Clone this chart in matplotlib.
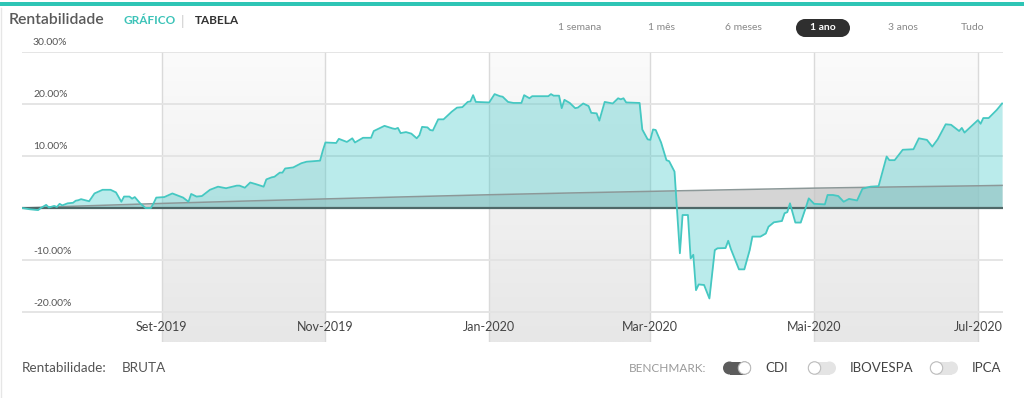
import matplotlib.pyplot as plt
import matplotlib.dates as mdates
from matplotlib.colors import LinearSegmentedColormap
from matplotlib.patches import FancyBboxPatch, Rectangle, Circle
import numpy as np
import pandas as pd

plt.rcParams['font.family'] = ['Lato', 'DejaVu Sans']

# rentabilidade acumulada do fundo (%)
datas = [
    '2019-07-11', '2019-07-14', '2019-07-17', '2019-07-18', '2019-07-20', '2019-07-21', '2019-07-23',
    '2019-07-24', '2019-07-25', '2019-07-26', '2019-07-28', '2019-07-30', '2019-07-31',
    '2019-08-01', '2019-08-02', '2019-08-05', '2019-08-07', '2019-08-10', '2019-08-13', '2019-08-15',
    '2019-08-17', '2019-08-18', '2019-08-20', '2019-08-21', '2019-08-22', '2019-08-24', '2019-08-26',
    '2019-08-28', '2019-08-29', '2019-08-30',
    '2019-09-02', '2019-09-05', '2019-09-09', '2019-09-11', '2019-09-12', '2019-09-14', '2019-09-16',
    '2019-09-19', '2019-09-22', '2019-09-25', '2019-09-29', '2019-09-30',
    '2019-10-02', '2019-10-04', '2019-10-06', '2019-10-09', '2019-10-10', '2019-10-12', '2019-10-13',
    '2019-10-15', '2019-10-16', '2019-10-17', '2019-10-20', '2019-10-23', '2019-10-25', '2019-10-30',
    '2019-10-31',
    '2019-11-01', '2019-11-05', '2019-11-06', '2019-11-09', '2019-11-11', '2019-11-12', '2019-11-14',
    '2019-11-15', '2019-11-18', '2019-11-19', '2019-11-23', '2019-11-26', '2019-11-27', '2019-11-28',
    '2019-11-29',
    '2019-12-01', '2019-12-03', '2019-12-05', '2019-12-06', '2019-12-07', '2019-12-09', '2019-12-10',
    '2019-12-11', '2019-12-13', '2019-12-15', '2019-12-18', '2019-12-20', '2019-12-22', '2019-12-24',
    '2019-12-25', '2019-12-26', '2019-12-27',
    '2020-01-01', '2020-01-03', '2020-01-05', '2020-01-06', '2020-01-08', '2020-01-10', '2020-01-13',
    '2020-01-14', '2020-01-16', '2020-01-17', '2020-01-23', '2020-01-24', '2020-01-25', '2020-01-27',
    '2020-01-28', '2020-01-29', '2020-01-31',
    '2020-02-02', '2020-02-03', '2020-02-05', '2020-02-07', '2020-02-08', '2020-02-10', '2020-02-11',
    '2020-02-13', '2020-02-16', '2020-02-18', '2020-02-19', '2020-02-20', '2020-02-21', '2020-02-26',
    '2020-02-27', '2020-02-29',
    '2020-03-01', '2020-03-02', '2020-03-03', '2020-03-05', '2020-03-07', '2020-03-08', '2020-03-10',
    '2020-03-12', '2020-03-13', '2020-03-15', '2020-03-16', '2020-03-17', '2020-03-18', '2020-03-19',
    '2020-03-21', '2020-03-23', '2020-03-25', '2020-03-26', '2020-03-29', '2020-03-30', '2020-03-31',
    '2020-04-03', '2020-04-05', '2020-04-07', '2020-04-08', '2020-04-11', '2020-04-13', '2020-04-14',
    '2020-04-16', '2020-04-19', '2020-04-20', '2020-04-21', '2020-04-22', '2020-04-24', '2020-04-26',
    '2020-04-28', '2020-04-29',
    '2020-05-01', '2020-05-05', '2020-05-06', '2020-05-08', '2020-05-10', '2020-05-12', '2020-05-14',
    '2020-05-17', '2020-05-19', '2020-05-22', '2020-05-25', '2020-05-28', '2020-05-29', '2020-05-31',
    '2020-06-03', '2020-06-07', '2020-06-09', '2020-06-12', '2020-06-14', '2020-06-16', '2020-06-19',
    '2020-06-21', '2020-06-24', '2020-06-25', '2020-06-26',
    '2020-07-01', '2020-07-02', '2020-07-03', '2020-07-05', '2020-07-08', '2020-07-10',
]
rentab = [
    0.0, -0.25, -0.4, 0.0, 0.6, 0.1, 0.4, 0.2, 0.8, 0.5, 0.9, 1.0, 1.4,
    1.5, 1.7, 1.3, 2.8, 3.5, 3.5, 3.0, 1.2, 2.2, 2.2, 1.8, 2.1, 0.9, 0.0, 0.0, 0.9, 2.0,
    2.1, 2.8, 2.0, 1.2, 2.7, 2.2, 2.3, 3.5, 4.1, 3.8, 4.3, 4.3,
    3.9, 4.9, 4.6, 4.1, 5.5, 5.9, 6.0, 6.8, 6.8, 7.6, 7.8, 8.6, 8.9, 9.1, 11.0,
    12.6, 12.5, 13.3, 12.7, 13.4, 12.6, 13.2, 13.5, 13.5, 14.8, 15.8, 15.3, 15.2, 15.4, 14.4,
    14.6, 14.3, 13.4, 14.0, 15.6, 15.5, 15.0, 14.9, 17.05, 17.05, 18.5, 19.3, 19.4, 20.4, 20.5, 21.7, 20.4,
    20.3, 21.9, 21.5, 21.4, 20.4, 20.2, 20.2, 21.7, 21.1, 21.5, 21.5, 21.9, 21.6, 21.6, 19.2, 20.8, 20.2,
    19.2, 19.3, 20.1, 19.6, 18.3, 18.2, 16.8, 20.4, 20.1, 21.1, 20.9, 21.1, 20.3, 20.2, 15.1, 13.2,
    13.1, 15.1, 15.0, 12.6, 9.2, 9.0, 7.0, -8.7, -1.35, -1.35, -9.7, -9.0, -15.8, -14.7, -14.8, -17.4,
    -8.1, -7.75, -7.7, -6.3, -7.9,
    -11.8, -11.8, -8.1, -5.5, -5.5, -4.9, -3.6, -2.75, -2.5, -1.0, -0.8, 0.9, -2.8, -2.8, 0.25, 1.85,
    0.8, 0.7, 2.5, 2.5, 2.3, 1.2, 1.75, 1.45, 3.7, 4.1, 4.2, 9.9, 9.2, 9.2,
    11.2, 11.3, 13.4, 13.1, 11.8, 13.2, 16.1, 16.0, 14.8, 15.4, 14.5,
    16.9, 16.2, 17.3, 17.3, 18.85, 20.1,
]

# benchmark CDI acumulado (%)
cdi_datas = ['2019-07-11', '2019-08-01', '2019-09-01', '2019-10-01', '2019-11-01', '2019-12-01',
             '2020-01-01', '2020-02-01', '2020-03-01', '2020-04-01', '2020-05-01', '2020-06-01',
             '2020-07-01', '2020-07-10']
cdi = [0.0, 0.37, 0.88, 1.32, 1.75, 2.15, 2.55, 2.9, 3.2, 3.52, 3.82, 4.06, 4.27, 4.35]

faixas = [('2019-09-01', '2019-11-01'), ('2020-01-01', '2020-03-01'), ('2020-05-01', '2020-07-01')]
meses = ['2019-09-01', '2019-11-01', '2020-01-01', '2020-03-01', '2020-05-01', '2020-07-01']
meses_labels = ['Set-2019', 'Nov-2019', 'Jan-2020', 'Mar-2020', 'Mai-2020', 'Jul-2020']
y_ticks = [30, 20, 10, 0, -10, -20]

x = pd.to_datetime(datas)
xc = pd.to_datetime(cdi_datas)

W, H = 1024, 398
fig = plt.figure(figsize=(W / 100, H / 100), dpi=100)
fig.patch.set_facecolor('white')

# px -> escala: 5.2 px por ponto percentual, topo em 30%
px_per = 5.2
y_top = 30
y_bot = y_top - (342 - 52) / px_per
ax = fig.add_axes([22 / W, (H - 342) / H, 981 / W, 290 / H])

# faixas cinzas com gradiente
cmap = LinearSegmentedColormap.from_list('faixa', ['#fbfbfb', '#e7e7e7'])
grad = np.linspace(0, 1, 200).reshape(-1, 1)
for a, b in faixas:
    x0, x1 = mdates.date2num(pd.Timestamp(a)), mdates.date2num(pd.Timestamp(b))
    ax.imshow(grad, cmap=cmap, extent=[x0, x1, y_bot, y_top], aspect='auto',
              origin='upper', zorder=0)
    for xv in (x0, x1):
        ax.plot([xv, xv], [y_bot, y_top], color='#dadada', lw=1, zorder=0.5)

for v in y_ticks:
    ax.axhline(v, color='#e3e3e3', lw=1.3, zorder=1)
    if v == 0:
        continue  # o zero não tem rótulo
    ax.text(11 / 981, v + 9 / px_per, f'{v:.2f}%', transform=ax.get_yaxis_transform(),
            ha='left', va='center', fontsize=7.5, color='#555555')

ax.fill_between(xc, 0, cdi, color='#c4c4c4', alpha=0.7, lw=0, zorder=2)
ax.fill_between(x, 0, rentab, color='#40c8c8', alpha=0.36, lw=0, zorder=3)
ax.plot(xc, cdi, color='#8c9898', lw=1.1, zorder=4)
ax.axhline(0, color='#4f6868', lw=1.6, zorder=5)
ax.plot(x, rentab, color='#45c8c2', lw=1.3, zorder=6)

for d, lab in zip(meses, meses_labels):
    ax.text(pd.Timestamp(d), y_top - (327 - 52) / px_per, lab, ha='center', va='center',
            fontsize=9, color='#444444', zorder=7)

ax.set_xlim(x[0], x[-1] + pd.Timedelta(hours=8))
ax.set_ylim(y_bot, y_top)
ax.set_xticks([])
ax.set_yticks([])
for s in ax.spines.values():
    s.set_visible(False)

# camada de interface (pixels)
ui = fig.add_axes([0, 0, 1, 1], zorder=10)
ui.set_xlim(0, W)
ui.set_ylim(H, 0)
ui.axis('off')
ui.patch.set_alpha(0)

ui.add_patch(Rectangle((0, 1.5), W, 4.5, color='#2ec5b5', lw=0))
ui.plot([1, 1], [8, H], color='#e6e6e6', lw=1)

ui.text(9, 20, 'Rentabilidade', fontsize=11.3, color='#5a5a5a', va='center', ha='left',
        fontweight='semibold')
ui.text(123, 21, 'GRÁFICO', fontsize=8.5, color='#3cc3b8', fontweight='bold', va='center')
ui.text(183, 21, '|', fontsize=10, color='#cccccc', va='center', ha='center')
ui.text(195, 21, 'TABELA', fontsize=8.5, color='#333333', fontweight='bold', va='center')

periodos = ['1 semana', '1 mês', '6 meses', '1 ano', '3 anos', 'Tudo']
pos_periodos = [580, 661, 743, 823, 903, 973]
for lab, px in zip(periodos, pos_periodos):
    if lab == '1 ano':
        ui.add_patch(Rectangle((805, 19), 36, 18, fc='#2f2f2f', ec='none'))
        ui.add_patch(Circle((805, 28), 9, fc='#2f2f2f', ec='none'))
        ui.add_patch(Circle((841, 28), 9, fc='#2f2f2f', ec='none'))
        ui.text(px, 28, lab, fontsize=7.5, color='white', fontweight='bold', ha='center', va='center')
    else:
        ui.text(px, 28, lab, fontsize=7.5, color='#888888', ha='center', va='center')

yb = 368
ui.text(22, yb, 'Rentabilidade:', fontsize=9.7, color='#555555', va='center')
ui.text(122, yb, 'BRUTA', fontsize=9.7, color='#555555', va='center')
ui.text(629, yb, 'BENCHMARK:', fontsize=8.5, color='#9a9a9a', va='center')


def toggle(x0, ligado):
    cor = '#5c5c5c' if ligado else '#e4e4e4'
    ui.add_patch(Rectangle((x0 + 6.5, yb - 6.5), 15, 13, fc=cor, ec='none'))
    ui.add_patch(Circle((x0 + 6.5, yb), 6.5, fc=cor, ec='none'))
    ui.add_patch(Circle((x0 + 21.5, yb), 6.5, fc=cor, ec='none'))
    kx = x0 + 21.5 if ligado else x0 + 6.5
    ui.add_patch(Circle((kx, yb), 6.2, fc='white', ec='#bdbdbd', lw=0.8))


bench = ['CDI', 'IBOVESPA', 'IPCA']
bench_on = [True, False, False]
pos_toggle = [723, 808, 930]
for nome, on, tx in zip(bench, bench_on, pos_toggle):
    toggle(tx, on)
    ui.text(tx + 42, yb, nome, fontsize=9.5, color='#444444', va='center')

fig.savefig('out.png', dpi=100)
plt.close(fig)
